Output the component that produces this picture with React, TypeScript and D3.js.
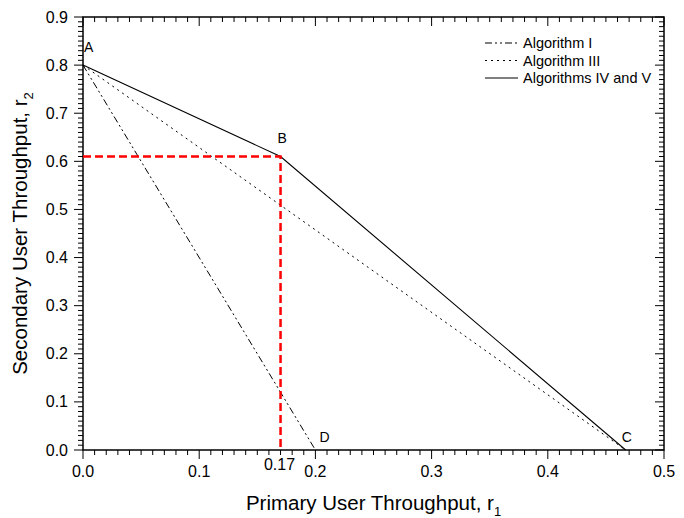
import React from "react";
import * as d3 from "d3";

const algo1X = [0, 0.2];
const algo1Y = [0.8, 0];
const algo3X = [0, 0.467];
const algo3Y = [0.8, 0];
const algo45X = [0, 0.17, 0.467];
const algo45Y = [0.8, 0.61, 0];
const guideX = [0, 0.17, 0.17];
const guideY = [0.61, 0.61, 0];
const xTicks = [0, 0.1, 0.2, 0.3, 0.4, 0.5];
const yTicks = [0, 0.1, 0.2, 0.3, 0.4, 0.5, 0.6, 0.7, 0.8, 0.9];
const pointLabels = ["A", "B", "C", "D"];
const pointX = [0, 0.17, 0.467, 0.2];
const pointY = [0.8, 0.61, 0, 0];
const legendNames = ["Algorithm I", "Algorithm III", "Algorithms IV and V"];

const W = 684, H = 518;
const L = 83, R = 664, T = 17, B = 450;
const FONT = "Liberation Sans, Arial, sans-serif";

export default function App() {
  const x = d3.scaleLinear().domain([0, 0.5]).range([L, R]);
  const y = d3.scaleLinear().domain([0, 0.9]).range([B, T]);
  const line = (xs: number[], ys: number[]) =>
    d3.line<number>().x((_, i) => x(xs[i])).y((_, i) => y(ys[i]))(xs.map((_, i) => i)) || "";

  const xMinor = d3.range(0, 51).map((i) => i / 100);
  const yMinor = d3.range(0, 91).map((i) => i / 100);
  const isMajor = (v: number, step: number) => Math.abs(v / step - Math.round(v / step)) < 1e-6;

  const dashes = ["7,3,2,3,2,3", "2,4", ""];
  const labelOffsets: [number, number][] = [[1, -13], [-3, -14], [-4, -8], [4, -8]];

  return (
    <svg width={W} height={H} style={{ display: "block", position: "absolute", left: 0, top: 0, background: "#fff" }}>
      <rect x={0} y={0} width={W} height={H} fill="#fff" />
      <g stroke="#000" strokeWidth={1}>
        {xMinor.map((v, i) => {
          const len = isMajor(v, 0.1) ? 9 : 5;
          return (
            <g key={"xt" + i}>
              <line x1={x(v)} x2={x(v)} y1={B} y2={B + len} />
              <line x1={x(v)} x2={x(v)} y1={T} y2={T + len} />
            </g>
          );
        })}
        {yMinor.map((v, i) => {
          const len = isMajor(v, 0.1) ? 9 : 5;
          return (
            <g key={"yt" + i}>
              <line x1={L - len} x2={L} y1={y(v)} y2={y(v)} />
              <line x1={R - len} x2={R} y1={y(v)} y2={y(v)} />
            </g>
          );
        })}
      </g>
      <rect x={L} y={T} width={R - L} height={B - T} fill="none" stroke="#000" strokeWidth={1.5} />
      <g fontFamily={FONT} fontSize={16} fill="#000">
        {xTicks.map((v) => (
          <text key={"xl" + v} x={x(v)} y={B + 27} textAnchor="middle">{v.toFixed(1)}</text>
        ))}
        <text x={x(0.17) - 1} y={B + 20} textAnchor="middle">0.17</text>
        {yTicks.map((v) => (
          <text key={"yl" + v} x={L - 15} y={y(v) + 5.5} textAnchor="end">{v.toFixed(1)}</text>
        ))}
      </g>
      <path d={line(algo3X, algo3Y)} fill="none" stroke="#000" strokeWidth={1} strokeDasharray={dashes[1]} />
      <path d={line(algo1X, algo1Y)} fill="none" stroke="#000" strokeWidth={1} strokeDasharray={dashes[0]} />
      <path d={line(algo45X, algo45Y)} fill="none" stroke="#000" strokeWidth={1.1} />
      <path d={line(guideX, guideY)} fill="none" stroke="#ff0000" strokeWidth={2.5} strokeDasharray="8,4" />
      <g fontFamily={FONT} fontSize={14} fill="#000">
        {pointLabels.map((p, i) => (
          <text key={p} x={x(pointX[i]) + labelOffsets[i][0]} y={y(pointY[i]) + labelOffsets[i][1]}>{p}</text>
        ))}
      </g>
      <g fontFamily={FONT} fontSize={14.5} fill="#000">
        {legendNames.map((n, i) => (
          <g key={n}>
            <line x1={485} x2={518} y1={43 + i * 17.5} y2={43 + i * 17.5} stroke="#000" strokeWidth={1} strokeDasharray={dashes[i] || undefined} />
            <text x={523} y={48 + i * 17.5}>{n}</text>
          </g>
        ))}
      </g>
      <text x={(L + R) / 2} y={510} textAnchor="middle" fontFamily={FONT} fontSize={20.5} fill="#000">
        Primary User Throughput, r<tspan fontSize={13} dy={6}>1</tspan>
      </text>
      <text transform={`translate(27,${(T + B) / 2}) rotate(-90)`} textAnchor="middle" fontFamily={FONT} fontSize={20.5} fill="#000">
        Secondary User Throughput, r<tspan fontSize={13} dy={6}>2</tspan>
      </text>
    </svg>
  );
}
